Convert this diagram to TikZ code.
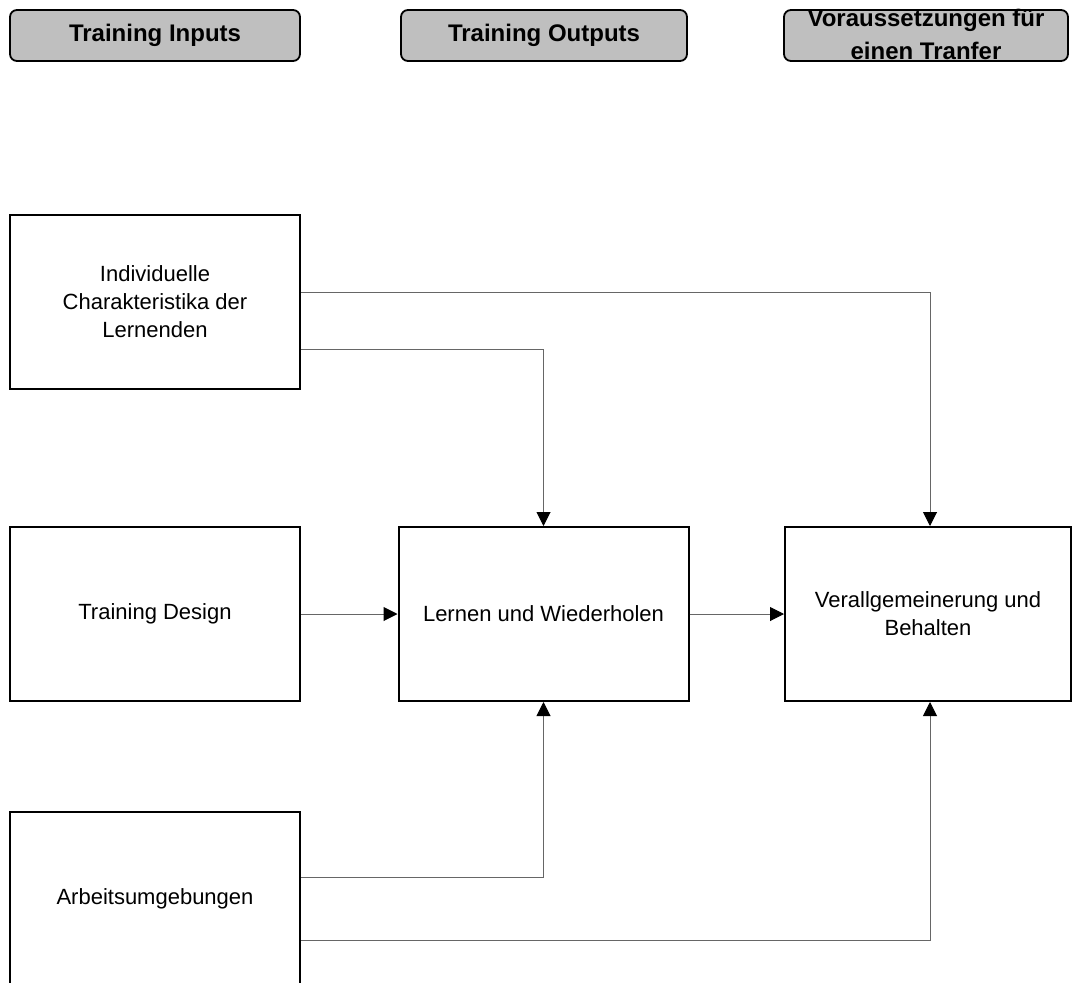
\documentclass[tikz,border=0pt]{standalone}
\usepackage{fontspec}
\setmainfont{Liberation Sans}
\usetikzlibrary{arrows.meta}
\begin{document}
\begin{tikzpicture}[x=1pt,y=-1pt,
  hbox/.style={draw=black, line width=1.8pt, fill=black!25, rounded corners=7pt, minimum width=#1, minimum height=51pt, inner sep=0pt},
  htext/.style={font=\bfseries\fontsize{24}{33}\selectfont, align=center, inner sep=0pt},
  box/.style={draw=black, line width=2pt, minimum width=290pt, minimum height=174pt, inner sep=0pt, align=center, font=\fontsize{22}{28}\selectfont},
  conn/.style={draw=black!60, line width=1pt, -{Triangle[length=14pt,width=14pt,black]}}
]
\useasboundingbox (0,0) rectangle (1072,983);
% headers
\node[hbox=290pt] (h1) at (155,35.5) {};
\node[htext] (h1t) at (h1.center) {Training Inputs};
\node[hbox=286pt] (h2) at (544,35.5) {};
\node[htext] (h2t) at (h2.center) {Training Outputs};
\node[hbox=284pt] (h3) at (926,35.5) {};
\node[htext] (h3t) at (926,34) {Voraussetzungen für\\einen Tranfer};
% boxes
\node[box] (ind) at (155,302) {Individuelle\\Charakteristika der\\Lernenden};
\node[box] (des) at (155,614) {Training Design};
\node[box] (arb) at (155,899) {Arbeitsumgebungen};
\node[box] (ler) at (543.5,614) {Lernen und Wiederholen};
\node[box, minimum width=286pt] (ver) at (928,614) {Verallgemeinerung und\\Behalten};
% connectors
\draw[conn] (ind.east |- 0,292) -| (ver.north -| 930,0);
\draw[conn] (ind.east |- 0,349) -| (ler.north);
\draw[conn] (des.east) -- (ler.west);
\draw[conn] (ler.east) -- (ver.west);
\draw[conn] (arb.east |- 0,877) -| (ler.south);
\draw[conn] (arb.east |- 0,940) -| (ver.south -| 930,0);
\end{tikzpicture}
\end{document}
